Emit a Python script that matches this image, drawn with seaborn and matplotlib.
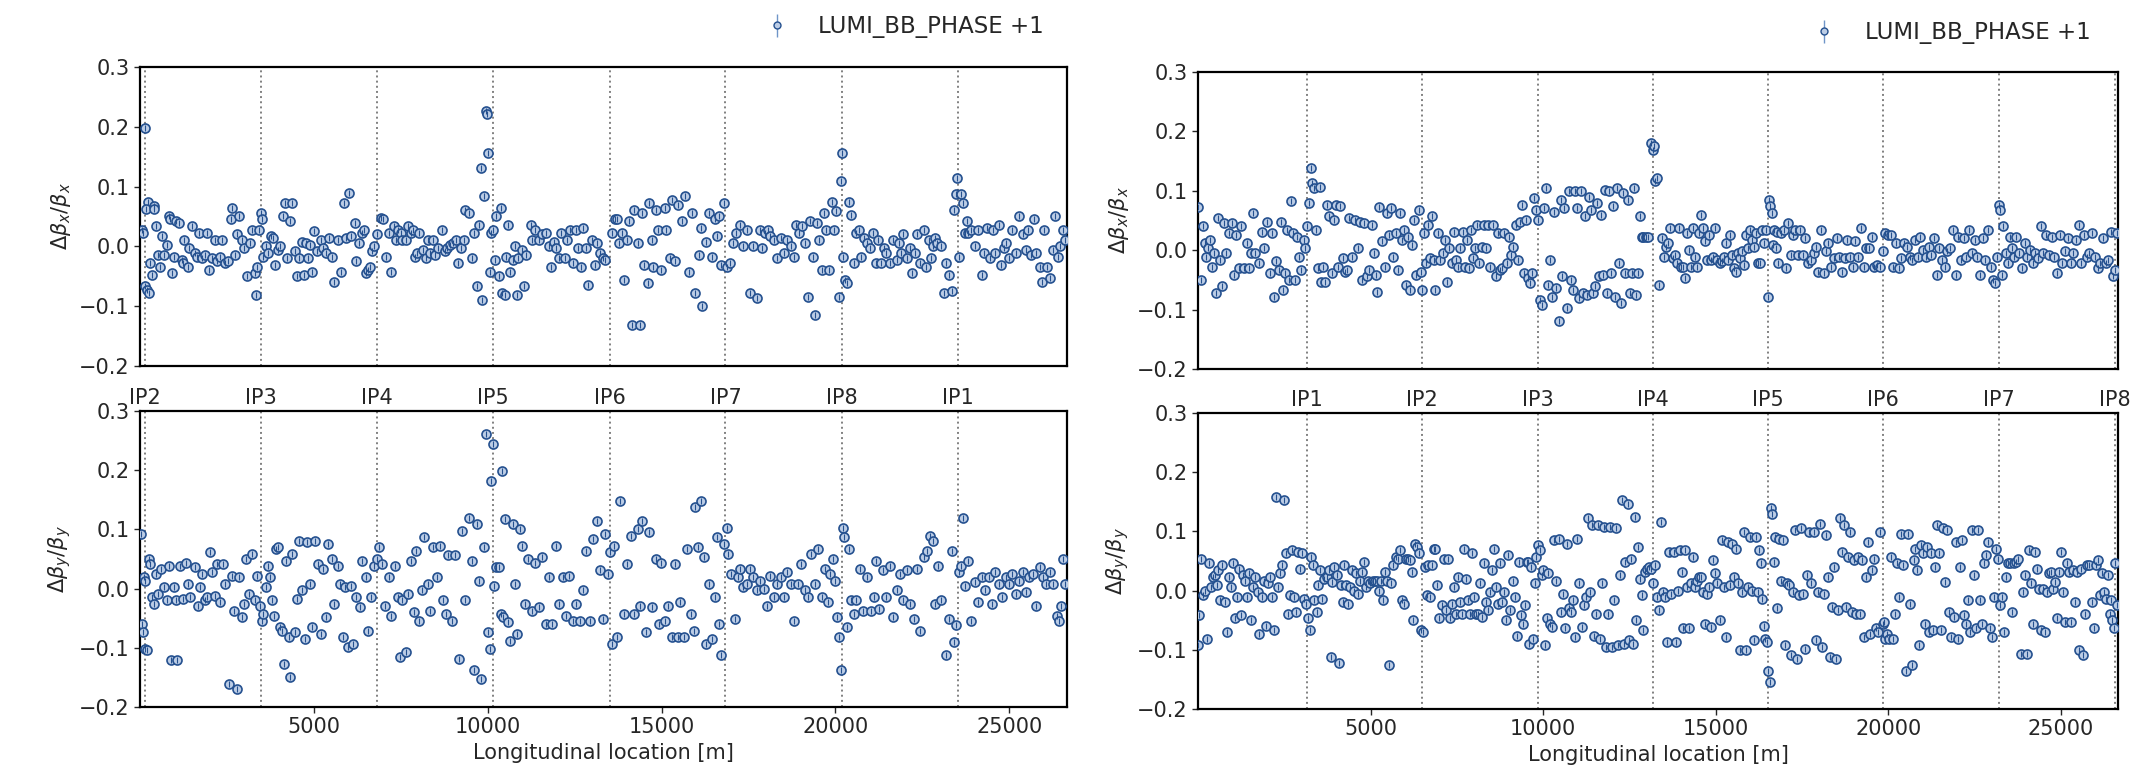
import pandas as pd
import seaborn as sns
import matplotlib.pyplot as plt

# ring length and IP locations (left: beam 2 frame, right: beam 1 frame)
circumference = 26659
ip_names_left = ["IP2", "IP3", "IP4", "IP5", "IP6", "IP7", "IP8", "IP1"]
ip_pos_left = [137, 3489, 6821, 10153, 13504, 16836, 20188, 23520]
ip_names_right = ["IP1", "IP2", "IP3", "IP4", "IP5", "IP6", "IP7", "IP8"]
ip_pos_right = [3156, 6488, 9839, 13191, 16523, 19855, 23206, 26558]
series_label = "LUMI_BB_PHASE +1"

# (s [m], delta beta / beta)
left_bx = [(59,0.028),(98,0.022),(157,0.198),(137,-0.067),(196,-0.073),(255,-0.078),(216,0.075),(176,0.062),(294,-0.028),(333,-0.047),(392,0.067),(412,0.062),(470,0.034),(529,-0.014),(588,-0.034),(647,0.017),(686,-0.014),(764,0.003),(823,0.05),(862,0.045),(921,-0.045),(980,-0.017),(1039,0.042),(1117,0.039),(1196,-0.022),(1235,-0.028),(1274,0.011),(1372,-0.034),(1411,-0.003),(1509,0.034),(1568,-0.011),(1627,-0.017),(1705,0.022),(1784,-0.02),(1862,-0.014),(1921,0.022),(1980,-0.039),(2058,-0.02),(2156,0.011),(2215,-0.025),(2293,-0.017),(2352,0.011),(2450,-0.028),(2528,-0.025),(2646,0.064),(2607,0.045),(2724,-0.014),(2803,0.02),(2842,0.05),(2940,0.011),(2999,-0.003),(3077,-0.05),(3156,0.006),(3234,0.028),(3293,-0.045),(3332,-0.081),(3371,-0.034),(3430,0.028),(3469,0.056),(3508,0.045),(3548,-0.017),(3626,0.0),(3685,-0.011),(3763,0.017),(3822,0.014),(3881,-0.031),(3959,-0.006),(4018,0.0),(4116,0.05),(4175,0.073),(4214,-0.02),(4312,0.042),(4371,0.073),(4449,-0.008),(4508,-0.05),(4567,-0.02),(4645,0.008),(4704,-0.047),(4763,0.006),(4841,-0.02),(4900,0.003),(4959,-0.042),(4998,0.025),(5096,-0.008),(5194,0.011),(5272,-0.003),(5351,-0.011),(5429,0.014),(5527,-0.017),(5586,-0.059),(5684,0.011),(5782,-0.042),(5880,0.073),(5919,0.014),(6017,0.089),(6076,0.017),(6174,0.039),(6213,-0.025),(6311,0.006),(6370,0.022),(6448,0.028),(6488,-0.045),(6566,-0.039),(6625,-0.034),(6684,-0.008),(6723,0.0),(6821,0.02),(6919,0.047),(6997,0.045),(7076,-0.017),(7154,0.022),(7213,-0.042),(7291,0.034),(7350,0.011),(7428,0.028),(7507,0.022),(7546,0.011),(7644,0.011),(7703,0.034),(7781,0.022),(7860,0.028),(7899,-0.017),(7977,-0.011),(8036,0.022),(8134,-0.006),(8212,-0.02),(8271,0.011),(8330,-0.011),(8428,0.011),(8487,-0.014),(8565,-0.003),(8683,0.028),(8761,-0.008),(8840,-0.003),(8918,0.003),(8996,0.006),(9075,0.011),(9153,-0.028),(9232,-0.003),(9310,0.011),(9349,0.061),(9467,0.056),(9545,-0.02),(9604,0.022),(9702,-0.067),(9741,0.036),(9800,0.131),(9839,-0.089),(9898,0.084),(9937,0.226),(9976,0.221),(10016,0.156),(10055,-0.042),(10094,0.022),(10153,0.028),(10212,-0.022),(10251,0.05),(10329,-0.05),(10368,0.064),(10408,-0.078),(10486,-0.081),(10525,-0.017),(10584,0.036),(10643,-0.042),(10721,-0.022),(10780,0.0),(10839,-0.081),(10878,-0.02),(10976,-0.006),(11035,-0.067),(11113,-0.014),(11231,0.036),(11270,0.011),(11368,0.028),(11466,0.011),(11564,0.02),(11662,0.022),(11760,0.0),(11819,-0.034),(11897,0.008),(11956,-0.003),(12054,-0.02),(12113,0.022),(12211,-0.02),(12289,0.011),(12368,0.028),(12446,-0.028),(12544,0.028),(12603,-0.003),(12681,-0.034),(12740,0.031),(12838,-0.003),(12877,-0.064),(12995,0.011),(13073,-0.031),(13152,0.006),(13230,-0.011),(13308,-0.02),(13367,-0.022),(13563,0.022),(13661,0.045),(13720,0.045),(13779,0.006),(13857,0.022),(13916,-0.056),(14014,0.011),(14073,0.042),(14151,-0.131),(14210,0.061),(14308,0.006),(14367,-0.131),(14445,0.056),(14504,-0.031),(14602,-0.061),(14641,0.073),(14720,0.011),(14759,-0.034),(14837,0.061),(14896,0.028),(14994,-0.039),(15092,0.064),(15131,0.028),(15229,-0.02),(15308,0.078),(15386,-0.025),(15484,0.07),(15582,0.042),(15680,0.084),(15778,-0.042),(15876,0.056),(15974,-0.078),(16072,-0.014),(16170,-0.1),(16131,0.031),(16268,0.008),(16366,0.056),(16464,-0.017),(16523,0.045),(16601,0.017),(16660,0.05),(16719,-0.031),(16797,0.073),(16876,-0.034),(16954,-0.028),(17052,0.006),(17150,0.022),(17248,0.036),(17346,0.0),(17444,0.028),(17542,-0.078),(17640,0.0),(17738,-0.087),(17836,0.028),(17895,-0.003),(17973,0.022),(18052,0.028),(18130,0.017),(18228,0.011),(18326,-0.02),(18424,0.014),(18522,-0.011),(18620,0.011),(18718,0.0),(18816,-0.017),(18875,0.036),(18953,0.022),(19032,0.034),(19110,0.006),(19208,-0.084),(19267,0.042),(19345,-0.017),(19404,-0.115),(19463,0.039),(19541,0.011),(19600,-0.039),(19659,0.056),(19737,0.028),(19816,-0.039),(19894,0.075),(19953,0.028),(20012,0.059),(20090,-0.084),(20149,0.109),(20188,0.156),(20227,-0.017),(20286,-0.056),(20345,-0.061),(20384,0.075),(20443,0.053),(20521,-0.028),(20580,0.022),(20678,0.028),(20737,-0.017),(20835,0.014),(20913,0.006),(20992,-0.003),(21070,0.022),(21168,-0.028),(21227,0.011),(21305,-0.028),(21384,-0.003),(21462,-0.011),(21560,-0.028),(21658,0.011),(21756,-0.022),(21815,0.006),(21893,-0.011),(21952,0.02),(22050,-0.02),(22148,-0.003),(22207,-0.045),(22285,-0.011),(22344,0.02),(22442,-0.028),(22540,0.028),(22599,-0.034),(22677,0.011),(22736,-0.02),(22795,0.0),(22873,0.014),(22932,0.006),(23030,0.0),(23128,-0.078),(23187,-0.028),(23265,-0.047),(23344,-0.075),(23422,0.061),(23461,0.087),(23500,0.115),(23559,-0.017),(23618,0.087),(23657,0.073),(23716,0.022),(23775,0.042),(23814,0.022),(23912,0.028),(24010,0.0),(24108,0.028),(24206,-0.047),(24284,-0.011),(24363,0.031),(24441,-0.02),(24520,0.028),(24598,-0.011),(24696,0.036),(24755,-0.031),(24833,-0.003),(24912,0.006),(24990,-0.02),(25088,0.028),(25186,-0.011),(25284,0.05),(25382,0.02),(25480,-0.006),(25539,0.028),(25617,-0.014),(25696,0.045),(25774,-0.011),(25872,-0.034),(25931,-0.059),(26009,0.028),(26088,-0.034),(26166,-0.053),(26264,-0.006),(26323,0.05),(26401,-0.017),(26460,0.0),(26558,0.028),(26597,0.011)]

left_by = [(39,0.093),(59,-0.06),(78,-0.074),(118,0.019),(137,0.013),(157,-0.102),(196,-0.104),(255,0.05),(294,0.042),(333,-0.015),(392,-0.026),(451,0.025),(529,-0.009),(608,0.033),(686,0.002),(784,-0.02),(843,0.039),(882,-0.121),(980,0.002),(1039,-0.02),(1078,-0.121),(1137,0.039),(1235,-0.017),(1313,0.044),(1372,0.008),(1450,-0.015),(1568,0.036),(1666,-0.029),(1725,0.002),(1784,0.025),(1862,-0.02),(1921,-0.015),(1999,0.061),(2078,0.028),(2156,-0.012),(2215,0.042),(2293,-0.023),(2391,0.042),(2450,0.008),(2568,-0.161),(2646,0.022),(2705,-0.037),(2783,-0.169),(2842,0.019),(2920,-0.048),(2979,-0.026),(3058,0.05),(3136,-0.009),(3234,0.058),(3293,-0.02),(3371,0.022),(3450,-0.029),(3508,-0.054),(3548,-0.043),(3626,0.002),(3685,0.039),(3744,0.019),(3802,-0.02),(3861,-0.046),(3920,0.067),(3979,0.07),(4038,-0.065),(4096,-0.071),(4155,-0.127),(4194,0.047),(4273,-0.082),(4312,-0.149),(4371,0.058),(4449,-0.074),(4528,-0.017),(4567,0.081),(4645,-0.003),(4743,-0.085),(4802,0.078),(4880,0.008),(4959,-0.065),(5037,0.081),(5116,0.042),(5194,-0.076),(5272,0.033),(5351,-0.048),(5410,0.075),(5508,0.05),(5586,-0.026),(5684,0.039),(5762,0.008),(5841,-0.082),(5900,0.002),(5978,-0.099),(6076,0.005),(6135,-0.093),(6213,-0.015),(6331,-0.031),(6370,0.047),(6488,0.019),(6566,-0.071),(6644,-0.015),(6723,0.039),(6821,0.05),(6880,0.07),(6958,0.042),(7056,-0.029),(7154,0.019),(7232,-0.046),(7330,0.039),(7409,-0.015),(7468,-0.116),(7546,-0.02),(7644,-0.107),(7703,-0.009),(7801,0.047),(7879,-0.04),(7938,0.064),(8016,-0.054),(8114,-0.003),(8173,0.087),(8271,0.008),(8350,-0.037),(8428,0.07),(8546,0.019),(8624,0.072),(8722,-0.02),(8800,-0.043),(8859,0.056),(8977,-0.054),(9055,0.056),(9173,-0.119),(9271,0.098),(9349,-0.02),(9467,0.12),(9545,0.047),(9604,-0.138),(9702,0.109),(9741,0.013),(9820,-0.152),(9898,0.07),(9957,0.261),(10016,-0.074),(10055,-0.102),(10094,0.182),(10153,0.244),(10192,0.005),(10251,0.036),(10310,0.036),(10368,-0.043),(10408,0.199),(10447,-0.048),(10506,0.117),(10584,-0.057),(10643,-0.088),(10721,0.109),(10780,0.008),(10839,-0.076),(10917,0.101),(10996,0.072),(11074,-0.026),(11172,0.05),(11270,-0.037),(11368,0.044),(11466,-0.031),(11564,0.053),(11662,-0.06),(11760,0.019),(11858,-0.06),(11956,0.072),(12054,-0.026),(12152,0.019),(12250,-0.046),(12348,0.022),(12446,-0.054),(12544,-0.026),(12642,-0.054),(12740,-0.003),(12838,0.064),(12936,-0.054),(13034,0.084),(13132,0.115),(13230,0.031),(13328,-0.051),(13387,0.092),(13465,0.025),(13524,0.061),(13563,-0.093),(13622,0.072),(13720,-0.082),(13818,0.148),(13916,-0.043),(14014,0.042),(14112,0.089),(14210,-0.043),(14308,0.101),(14367,-0.029),(14445,0.115),(14563,-0.074),(14641,0.095),(14720,-0.031),(14837,0.05),(14916,-0.06),(14994,0.044),(15092,-0.054),(15190,-0.029),(15288,-0.082),(15386,0.042),(15464,-0.082),(15543,-0.023),(15641,-0.082),(15739,0.067),(15837,-0.043),(15935,-0.071),(15974,0.137),(16052,0.07),(16131,0.148),(16229,0.053),(16268,-0.093),(16366,0.008),(16444,-0.085),(16523,-0.015),(16582,0.087),(16640,-0.06),(16719,-0.113),(16797,0.075),(16876,0.103),(16915,0.058),(16993,0.025),(17111,-0.051),(17189,0.019),(17248,0.033),(17346,0.002),(17444,0.008),(17542,0.033),(17640,0.019),(17738,-0.003),(17836,0.013),(17934,0.0),(18032,-0.029),(18130,0.022),(18228,-0.015),(18326,0.008),(18424,0.019),(18522,-0.015),(18620,0.028),(18718,0.008),(18816,-0.054),(18914,0.008),(19012,0.042),(19110,-0.003),(19208,-0.015),(19306,0.058),(19404,0.008),(19502,0.067),(19600,-0.015),(19698,0.033),(19796,-0.023),(19855,0.025),(19933,0.05),(19992,0.013),(20051,-0.048),(20090,-0.082),(20149,-0.138),(20208,0.103),(20247,0.087),(20325,-0.065),(20384,0.067),(20443,-0.02),(20521,-0.043),(20600,-0.02),(20717,0.033),(20796,-0.037),(20913,0.019),(21011,-0.037),(21109,-0.015),(21168,0.047),(21266,-0.034),(21364,0.031),(21462,-0.015),(21560,0.039),(21658,-0.048),(21756,-0.003),(21854,0.025),(21952,-0.02),(22050,0.031),(22148,-0.026),(22246,-0.051),(22344,0.033),(22442,-0.071),(22540,0.053),(22638,0.064),(22716,0.089),(22795,0.081),(22873,-0.026),(22952,0.039),(23030,-0.02),(23187,-0.113),(23265,-0.051),(23344,0.064),(23422,-0.09),(23481,-0.062),(23540,0.028),(23618,0.039),(23677,0.12),(23736,0.005),(23814,0.047),(23912,-0.054),(24010,0.011),(24108,-0.023),(24206,0.019),(24304,-0.003),(24402,0.019),(24500,-0.026),(24598,0.028),(24696,0.008),(24794,-0.015),(24892,0.019),(24990,0.008),(25088,0.025),(25186,-0.009),(25284,0.013),(25382,0.028),(25480,-0.006),(25578,0.019),(25676,0.025),(25774,-0.029),(25872,0.036),(25970,0.019),(26068,0.008),(26166,0.028),(26264,0.008),(26362,-0.046),(26421,-0.054),(26480,-0.029),(26558,0.05),(26597,0.008)]

right_bx = [(0,0.072),(98,-0.05),(137,0.04),(196,0.012),(235,-0.011),(294,0.003),(353,0.017),(392,-0.028),(451,-0.005),(510,-0.072),(568,0.054),(647,-0.016),(706,-0.061),(764,0.046),(823,-0.005),(902,0.029),(980,0.046),(1039,-0.042),(1098,0.026),(1176,-0.03),(1254,0.04),(1333,-0.03),(1411,0.012),(1470,-0.03),(1529,-0.005),(1607,0.062),(1666,-0.005),(1764,-0.022),(1842,0.031),(1921,0.003),(1999,0.048),(2078,-0.039),(2136,0.029),(2215,-0.078),(2274,-0.019),(2352,-0.033),(2411,0.048),(2470,-0.067),(2528,-0.039),(2587,0.034),(2646,-0.05),(2705,0.082),(2764,0.029),(2822,-0.05),(2881,0.023),(2940,-0.011),(2999,-0.033),(3058,0.017),(3097,0.003),(3156,0.04),(3214,0.079),(3273,0.138),(3312,0.113),(3371,0.104),(3410,0.034),(3469,-0.03),(3528,0.107),(3567,-0.053),(3626,-0.028),(3685,-0.053),(3724,0.076),(3802,0.057),(3881,-0.039),(3940,0.051),(3998,0.076),(4057,-0.028),(4116,0.074),(4194,-0.013),(4253,-0.036),(4312,-0.033),(4390,0.054),(4469,-0.011),(4547,0.051),(4626,0.003),(4684,0.048),(4743,-0.05),(4802,0.046),(4900,-0.044),(4959,-0.033),(5037,0.043),(5096,-0.005),(5155,-0.042),(5194,-0.07),(5253,0.072),(5331,0.015),(5410,-0.028),(5468,0.062),(5527,0.026),(5606,0.071),(5664,-0.011),(5723,0.029),(5782,-0.033),(5841,0.062),(5900,0.017),(5958,0.034),(6017,-0.058),(6076,0.023),(6154,-0.067),(6213,0.009),(6272,0.051),(6331,-0.042),(6390,0.068),(6448,-0.036),(6488,-0.067),(6546,0.029),(6605,-0.022),(6664,0.043),(6723,-0.013),(6782,0.057),(6840,-0.016),(6880,-0.067),(6958,0.029),(7017,-0.016),(7095,-0.005),(7154,0.017),(7213,-0.053),(7272,0.003),(7350,-0.022),(7409,0.031),(7487,-0.016),(7546,-0.028),(7605,0.003),(7683,0.031),(7742,-0.028),(7801,0.017),(7860,-0.03),(7918,0.034),(7977,-0.013),(8036,0.003),(8095,0.043),(8154,-0.022),(8232,0.006),(8291,0.043),(8350,0.003),(8408,0.043),(8467,-0.028),(8546,0.043),(8624,-0.044),(8702,0.029),(8761,-0.033),(8820,-0.03),(8879,0.029),(8957,-0.022),(9016,0.023),(9075,-0.008),(9134,0.006),(9212,0.043),(9271,-0.016),(9330,0.048),(9388,0.076),(9447,-0.039),(9506,0.051),(9565,-0.047),(9624,-0.056),(9682,-0.039),(9741,0.088),(9800,0.068),(9859,0.051),(9918,-0.084),(9976,-0.092),(10035,0.071),(10094,0.104),(10153,-0.058),(10212,-0.016),(10270,-0.078),(10329,0.065),(10388,-0.064),(10447,-0.12),(10506,0.085),(10545,-0.044),(10604,0.071),(10682,-0.098),(10741,0.099),(10800,-0.05),(10858,-0.067),(10917,0.099),(10976,0.071),(11035,-0.081),(11094,0.099),(11152,-0.072),(11211,0.057),(11270,-0.075),(11329,0.09),(11388,0.068),(11446,-0.072),(11505,-0.061),(11564,0.079),(11623,-0.044),(11682,0.06),(11740,-0.042),(11799,0.102),(11858,-0.072),(11917,0.099),(11976,-0.039),(12034,0.074),(12093,-0.078),(12152,0.104),(12211,-0.022),(12270,-0.089),(12328,0.096),(12387,-0.039),(12446,0.085),(12505,-0.072),(12564,-0.039),(12622,0.104),(12681,-0.075),(12740,-0.039),(12799,0.057),(12858,0.023),(12897,0.023),(12975,0.023),(13034,0.023),(13132,0.18),(13171,0.169),(13210,0.175),(13250,0.116),(13289,0.121),(13367,-0.058),(13446,0.02),(13504,-0.011),(13563,0.006),(13622,0.012),(13681,0.037),(13759,-0.013),(13818,-0.008),(13877,-0.022),(13936,0.037),(13994,-0.028),(14053,-0.028),(14112,-0.047),(14171,0.029),(14230,0.0),(14288,-0.028),(14347,0.037),(14406,-0.011),(14465,-0.028),(14524,0.029),(14582,0.06),(14641,0.037),(14700,0.015),(14759,-0.016),(14818,0.026),(14876,-0.016),(14935,-0.011),(14994,0.037),(15053,-0.016),(15112,-0.022),(15170,-0.019),(15229,-0.011),(15288,0.012),(15347,-0.016),(15406,0.026),(15464,-0.008),(15523,-0.03),(15582,-0.036),(15641,-0.005),(15700,-0.013),(15758,-0.002),(15817,-0.025),(15876,0.026),(15935,0.003),(15994,0.034),(16052,0.017),(16111,0.006),(16170,0.029),(16229,-0.022),(16288,-0.022),(16346,0.034),(16405,0.012),(16464,0.034),(16503,-0.078),(16542,0.085),(16582,0.074),(16621,0.062),(16660,0.009),(16699,0.034),(16738,0.003),(16778,0.031),(16817,-0.022),(16895,0.029),(16974,0.034),(17052,-0.03),(17111,0.046),(17170,-0.008),(17248,0.026),(17307,0.034),(17385,-0.008),(17444,0.034),(17522,-0.008),(17601,0.02),(17679,-0.022),(17758,-0.016),(17836,-0.005),(17914,0.006),(17973,-0.036),(18052,0.034),(18130,-0.039),(18189,-0.002),(18267,0.012),(18346,-0.028),(18424,-0.013),(18502,0.02),(18581,-0.011),(18659,-0.036),(18738,-0.013),(18816,0.017),(18894,-0.011),(18973,-0.028),(19051,0.015),(19130,-0.011),(19208,0.037),(19286,-0.028),(19365,0.003),(19443,0.003),(19522,0.023),(19600,-0.028),(19678,-0.025),(19757,-0.028),(19835,-0.002),(19914,0.029),(19992,0.026),(20070,0.026),(20149,-0.028),(20227,0.012),(20306,-0.03),(20384,-0.013),(20462,0.012),(20541,0.006),(20619,-0.011),(20698,-0.016),(20776,0.017),(20854,-0.011),(20933,0.023),(21011,0.0),(21090,-0.011),(21168,0.006),(21246,-0.008),(21325,0.02),(21403,-0.042),(21482,0.003),(21560,-0.016),(21638,-0.028),(21717,-0.002),(21795,0.003),(21874,0.034),(21952,-0.042),(22030,0.023),(22109,-0.016),(22187,0.02),(22266,-0.011),(22344,0.034),(22422,-0.005),(22501,0.017),(22579,-0.011),(22658,-0.042),(22736,0.02),(22814,-0.016),(22893,0.034),(22971,-0.028),(23030,-0.05),(23089,-0.056),(23148,-0.011),(23206,0.076),(23246,0.068),(23285,-0.042),(23324,0.04),(23402,-0.005),(23461,-0.022),(23520,0.023),(23579,0.003),(23638,-0.011),(23716,0.023),(23794,-0.005),(23873,-0.03),(23951,0.012),(24030,-0.011),(24108,0.0),(24186,-0.022),(24265,-0.005),(24343,-0.013),(24422,0.04),(24500,-0.005),(24578,0.026),(24657,-0.008),(24735,0.023),(24814,-0.011),(24892,-0.039),(24970,0.026),(25049,-0.022),(25127,-0.002),(25206,0.02),(25284,-0.022),(25362,-0.005),(25441,0.017),(25519,0.043),(25598,-0.022),(25676,0.026),(25754,-0.011),(25833,-0.005),(25911,0.029),(25990,-0.011),(26068,-0.03),(26146,-0.022),(26225,0.02),(26303,-0.022),(26382,-0.016),(26460,0.031),(26519,-0.044),(26558,-0.033),(26617,0.029)]

right_by = [(0,-0.092),(39,-0.042),(98,0.054),(137,-0.008),(196,0.0),(255,-0.081),(314,0.046),(372,0.006),(431,0.023),(490,0.026),(549,0.009),(588,0.034),(647,-0.016),(706,0.043),(784,-0.019),(843,-0.07),(902,0.023),(960,0.006),(1019,0.046),(1078,-0.047),(1137,-0.011),(1196,0.037),(1254,-0.042),(1313,0.026),(1372,0.017),(1431,-0.011),(1490,0.029),(1548,-0.05),(1607,0.006),(1666,0.023),(1725,-0.002),(1764,-0.073),(1842,-0.011),(1901,0.017),(1960,-0.059),(2019,0.012),(2078,0.023),(2136,-0.011),(2195,-0.067),(2254,0.158),(2313,0.006),(2372,0.029),(2430,0.043),(2489,0.153),(2548,0.063),(2607,-0.039),(2666,-0.008),(2724,0.068),(2783,-0.011),(2842,-0.036),(2901,0.065),(2960,0.037),(3018,0.063),(3077,-0.014),(3136,-0.022),(3195,-0.047),(3234,-0.067),(3273,0.057),(3332,0.043),(3371,-0.016),(3450,-0.036),(3489,0.009),(3548,0.034),(3606,-0.014),(3665,0.02),(3724,0.023),(3783,0.034),(3842,-0.112),(3881,0.015),(3940,0.04),(4018,0.026),(4077,-0.123),(4136,0.009),(4194,-0.019),(4234,0.043),(4292,0.009),(4351,-0.022),(4410,0.006),(4469,0.034),(4508,0.0),(4586,0.029),(4645,-0.005),(4704,0.017),(4763,0.032),(4822,0.048),(4880,0.006),(4939,0.017),(4998,0.012),(5057,0.017),(5116,0.017),(5174,0.017),(5233,0.0),(5292,0.017),(5351,-0.016),(5410,0.032),(5488,0.017),(5547,-0.126),(5606,0.012),(5664,0.043),(5723,0.057),(5782,0.054),(5841,0.068),(5900,-0.016),(5958,-0.022),(6017,0.054),(6076,0.054),(6135,0.051),(6194,0.032),(6233,-0.05),(6292,0.079),(6350,0.074),(6409,0.063),(6468,-0.067),(6507,-0.07),(6566,0.04),(6625,-0.008),(6664,0.043),(6723,-0.011),(6782,0.043),(6840,0.071),(6880,0.071),(6938,0.009),(6997,-0.047),(7056,-0.025),(7115,0.054),(7174,-0.033),(7232,0.054),(7291,-0.047),(7350,-0.022),(7409,0.006),(7468,-0.039),(7526,0.023),(7585,-0.019),(7644,-0.039),(7703,0.071),(7762,0.02),(7820,-0.016),(7879,-0.039),(7938,0.063),(7997,-0.011),(8056,-0.039),(8114,-0.039),(8173,0.012),(8232,-0.045),(8291,0.046),(8350,-0.019),(8408,-0.033),(8467,-0.002),(8526,0.034),(8585,0.071),(8644,0.006),(8702,-0.022),(8761,0.046),(8820,-0.019),(8879,-0.002),(8938,-0.05),(8996,0.06),(9055,-0.033),(9114,0.017),(9173,-0.011),(9232,-0.076),(9290,0.048),(9349,-0.042),(9408,-0.056),(9467,-0.025),(9526,0.048),(9565,0.048),(9604,-0.09),(9643,0.04),(9702,-0.081),(9761,0.012),(9800,0.057),(9839,0.077),(9898,0.068),(9957,0.026),(9996,0.034),(10055,-0.092),(10114,-0.047),(10153,0.029),(10212,-0.056),(10270,-0.061),(10329,0.085),(10388,0.017),(10466,0.088),(10525,-0.036),(10584,-0.005),(10643,-0.064),(10702,0.079),(10760,-0.03),(10819,-0.036),(10878,-0.016),(10937,-0.078),(10996,0.088),(11054,0.012),(11113,-0.061),(11172,-0.025),(11231,-0.011),(11290,0.122),(11348,-0.002),(11407,0.11),(11466,-0.076),(11525,-0.039),(11584,0.11),(11642,-0.081),(11701,0.012),(11760,0.108),(11819,-0.095),(11878,-0.039),(11936,0.108),(11995,-0.095),(12054,-0.016),(12113,0.105),(12172,-0.092),(12230,0.026),(12289,0.153),(12348,-0.09),(12387,0.048),(12446,0.147),(12485,-0.084),(12544,0.054),(12603,-0.09),(12662,0.125),(12701,-0.05),(12760,0.074),(12818,0.02),(12858,-0.008),(12897,-0.067),(12956,0.032),(13014,0.037),(13073,0.04),(13132,0.037),(13191,0.012),(13250,0.043),(13308,-0.011),(13367,-0.033),(13426,0.116),(13485,-0.002),(13544,-0.011),(13602,-0.087),(13661,0.065),(13720,-0.005),(13779,0.065),(13838,-0.087),(13896,0.0),(13955,0.068),(14014,0.032),(14053,-0.064),(14112,0.068),(14171,0.006),(14230,-0.064),(14288,0.012),(14347,0.057),(14406,0.006),(14465,0.017),(14524,0.023),(14582,0.023),(14641,-0.002),(14700,-0.056),(14759,-0.005),(14818,0.006),(14876,-0.061),(14935,0.051),(14994,0.029),(15053,0.012),(15112,-0.05),(15170,0.085),(15229,0.006),(15288,-0.078),(15347,0.082),(15406,0.009),(15464,0.079),(15523,0.023),(15582,0.071),(15641,0.012),(15700,-0.101),(15758,-0.002),(15817,0.099),(15876,-0.101),(15935,0.006),(15994,0.091),(16052,0.0),(16111,-0.084),(16170,0.091),(16229,-0.002),(16268,0.068),(16307,0.046),(16346,-0.014),(16405,-0.059),(16444,-0.081),(16484,-0.087),(16523,-0.135),(16562,-0.154),(16601,0.139),(16640,0.13),(16680,0.048),(16719,0.091),(16778,-0.03),(16836,0.088),(16895,0.017),(16954,0.085),(17013,-0.092),(17072,0.012),(17130,0.009),(17189,-0.109),(17248,-0.002),(17307,0.102),(17366,-0.115),(17424,-0.008),(17483,0.105),(17542,-0.005),(17601,-0.098),(17660,0.026),(17718,0.099),(17777,0.012),(17836,0.099),(17895,-0.084),(17954,-0.002),(18012,0.113),(18071,-0.095),(18130,-0.005),(18189,0.094),(18248,0.023),(18306,-0.112),(18365,-0.028),(18424,0.04),(18483,-0.115),(18542,-0.033),(18600,0.122),(18659,0.065),(18718,0.11),(18777,-0.028),(18836,0.057),(18894,0.099),(18953,-0.036),(19012,0.051),(19071,-0.039),(19130,0.057),(19188,-0.039),(19247,0.051),(19306,-0.078),(19365,0.023),(19424,0.082),(19482,-0.073),(19541,0.034),(19600,0.054),(19659,-0.064),(19718,-0.07),(19776,0.099),(19835,-0.056),(19874,-0.053),(19914,-0.081),(19972,-0.073),(20031,-0.081),(20090,0.057),(20149,-0.081),(20208,-0.039),(20266,0.046),(20325,-0.011),(20384,0.096),(20443,0.043),(20502,-0.135),(20560,0.096),(20619,-0.022),(20678,-0.126),(20737,0.051),(20776,0.071),(20835,0.034),(20894,-0.092),(20952,0.077),(21011,0.063),(21070,-0.056),(21129,0.074),(21188,-0.07),(21246,0.063),(21305,-0.067),(21364,0.04),(21423,0.11),(21482,0.063),(21540,-0.067),(21599,0.105),(21658,0.015),(21717,0.102),(21776,-0.036),(21834,-0.078),(21893,-0.045),(21952,0.082),(22011,-0.081),(22070,0.04),(22128,0.085),(22187,-0.042),(22246,-0.056),(22305,-0.016),(22364,-0.07),(22422,0.102),(22481,0.026),(22540,-0.064),(22599,0.102),(22658,-0.016),(22716,-0.056),(22775,0.046),(22834,0.06),(22893,0.082),(22952,-0.064),(23010,-0.078),(23069,-0.011),(23128,0.071),(23187,0.054),(23246,-0.025),(23304,-0.011),(23363,-0.07),(23422,0.023),(23481,0.046),(23540,0.046),(23598,-0.036),(23657,0.046),(23716,0.048),(23775,0.054),(23834,-0.107),(23892,-0.002),(23951,0.026),(24010,-0.107),(24069,0.068),(24128,0.012),(24186,-0.056),(24245,0.065),(24304,0.037),(24363,0.003),(24422,-0.067),(24480,0.003),(24539,-0.07),(24598,-0.002),(24657,0.029),(24716,0.032),(24774,0.003),(24833,0.015),(24892,-0.047),(24951,0.032),(25010,0.065),(25068,-0.002),(25127,-0.053),(25186,0.046),(25245,0.032),(25304,-0.053),(25362,0.034),(25421,-0.019),(25480,0.032),(25539,-0.101),(25598,0.037),(25656,-0.109),(25715,-0.039),(25774,0.043),(25833,0.043),(25892,-0.019),(25950,-0.064),(26009,0.043),(26068,0.051),(26127,-0.008),(26186,0.029),(26244,-0.002),(26303,-0.014),(26362,0.026),(26421,-0.039),(26460,-0.016),(26499,-0.05),(26538,-0.064),(26578,0.046),(26617,-0.025)]

sns.set_style("white")
plt.rcParams["font.family"] = ["DejaVu Sans"]
plt.rcParams["mathtext.fontset"] = "dejavusans"

EDGE = "#24508f"
FACE = "#bccde6"
BAR = "#6f95c8"


def draw_panel(ax, pts, ips, ylabel):
    df = pd.DataFrame(pts, columns=["s", "dbeta"])
    for p in ips:
        ax.axvline(p, color="#808080", ls=":", lw=1.4, zorder=1)
    sns.scatterplot(data=df, x="s", y="dbeta", ax=ax, marker="o", s=42,
                    color=FACE, edgecolor=EDGE, linewidth=1.2, legend=False, zorder=3)
    sns.scatterplot(data=df, x="s", y="dbeta", ax=ax, marker="|", s=16,
                    color=EDGE, linewidth=0.8, legend=False, zorder=4)
    ax.set_xlim(0, circumference)
    ax.set_ylim(-0.2, 0.3)
    ax.set_yticks([-0.2, -0.1, 0.0, 0.1, 0.2, 0.3])
    ax.set_ylabel(ylabel, fontsize=15)
    ax.set_xlabel("")
    ax.tick_params(axis="y", labelsize=15, direction="out", length=4, width=1, left=True)
    for sp in ax.spines.values():
        sp.set_color("black")
        sp.set_linewidth(1.6)


def add_ip_labels(ax, ips, names):
    top = ax.twiny()
    top.set_xlim(ax.get_xlim())
    top.set_xticks(ips)
    top.set_xticklabels(names, fontsize=15)
    top.tick_params(axis="x", length=0, pad=2)
    for sp in top.spines.values():
        sp.set_visible(False)


fig = plt.figure(figsize=(21.31, 7.68), dpi=100)
W, H = 2131, 768


def box(x0, x1, y0, y1):
    return [x0 / W, 1 - y1 / H, (x1 - x0) / W, (y1 - y0) / H]


panels = [
    (box(140, 1067, 67, 366), left_bx, ip_pos_left, r"$\Delta\beta_x/\beta_x$", None),
    (box(140, 1067, 411, 707), left_by, ip_pos_left, r"$\Delta\beta_y/\beta_y$", ip_names_left),
    (box(1198, 2118, 72, 369), right_bx, ip_pos_right, r"$\Delta\beta_x/\beta_x$", None),
    (box(1198, 2118, 413, 709), right_by, ip_pos_right, r"$\Delta\beta_y/\beta_y$", ip_names_right),
]

axes = []
for rect, pts, ips, ylab, names in panels:
    ax = fig.add_axes(rect)
    draw_panel(ax, pts, ips, ylab)
    if names is None:
        ax.set_xticks([])
    else:
        ax.set_xticks([5000, 10000, 15000, 20000, 25000])
        ax.tick_params(axis="x", labelsize=15, direction="out", length=4, width=1, bottom=True)
        ax.set_xlabel("Longitudinal location [m]", fontsize=15)
        add_ip_labels(ax, ips, names)
    axes.append(ax)

# legend entries: errorbar style marker
for ax, anchor in [(axes[0], (1053 / W, 1 - 27 / H)), (axes[2], (2100 / W, 1 - 33 / H))]:
    h = ax.errorbar([], [], yerr=[], fmt="o", ms=5, mfc=FACE, mec=EDGE, mew=1.0,
                    ecolor=BAR, elinewidth=1.0, label=series_label)
    fig.legend(handles=[h], labels=[series_label], loc="center right",
               bbox_to_anchor=anchor, frameon=False, fontsize=16.5,
               handlelength=1.2, handletextpad=1.2, borderaxespad=0)

fig.savefig("out.png", dpi=100)
